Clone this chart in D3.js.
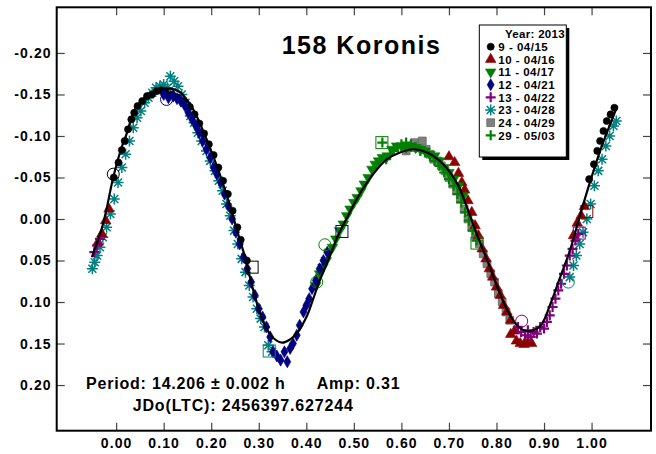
<!DOCTYPE html>
<meta charset="utf-8">

<!-- Load d3.js -->
<script src="https://d3js.org/d3.v7.min.js"></script>

<style>
body { margin: 0; background: white; }
text { font-family: Arial, "Liberation Sans", sans-serif; font-weight: bold; fill: #000; }
.tick text { font-size: 14px; letter-spacing: 1.1px; }
.tick line { stroke: #444; stroke-width: 1.2; }
</style>

<div id="my_dataviz"></div>

<script>

// ---- data: [phase, reduced mag] ----
var s09 = [[-0.005,-0.050],[0.005,-0.068],[0.012,-0.083],[0.018,-0.094],[0.025,-0.108],[0.032,-0.120],
  [0.038,-0.128],[0.045,-0.136],[0.055,-0.142],[0.065,-0.148],[0.075,-0.150],[0.085,-0.154],[0.095,-0.155],
  [0.105,-0.152],[0.118,-0.150],[0.130,-0.146],[0.142,-0.142],[0.155,-0.135],[0.165,-0.126],[0.175,-0.115],
  [0.185,-0.103],[0.195,-0.090],[0.205,-0.077],[0.215,-0.062],[0.225,-0.046],[0.235,-0.030],[0.245,-0.010],
  [0.255,0.010],[0.262,0.025],[0.275,0.050],
  [0.995,-0.048],[1.005,-0.066],[1.012,-0.082],[1.018,-0.094],[1.025,-0.106],[1.032,-0.118],[1.040,-0.126],[1.048,-0.134]];

var s10 = [[0.700,-0.075],[0.712,-0.068],[0.720,-0.055],[0.727,-0.044],[0.733,-0.035],[0.740,-0.022],
  [0.748,-0.008],[0.755,0.008],[0.762,0.020],[0.770,0.036],[0.778,0.048],[0.785,0.060],[0.792,0.070],
  [0.800,0.082],[0.808,0.092],[0.815,0.104],[0.822,0.112],[0.830,0.122],[0.838,0.135],[0.842,0.147],
  [0.850,0.150],[0.858,0.151],[0.866,0.149],[0.874,0.150],[0.830,0.139],
  [0.962,0.020],[0.970,0.005],[0.978,-0.004],[0.985,-0.015],
  [-0.038,0.028],[-0.030,0.018],[-0.022,0.002],[-0.015,-0.012]];

var s11 = [[0.420,0.080],[0.428,0.066],[0.435,0.058],[0.442,0.050],[0.448,0.040],[0.455,0.034],[0.462,0.024],
  [0.470,0.014],[0.478,0.006],[0.485,-0.004],[0.492,-0.012],[0.500,-0.020],[0.507,-0.026],[0.515,-0.034],
  [0.522,-0.042],[0.530,-0.050],[0.538,-0.060],[0.545,-0.066],[0.552,-0.070],[0.560,-0.074],[0.570,-0.076],
  [0.580,-0.084],[0.590,-0.088],[0.600,-0.088],[0.610,-0.086],[0.620,-0.088],[0.630,-0.086],[0.640,-0.084],
  [0.650,-0.082],[0.660,-0.078],[0.670,-0.076],[0.680,-0.070],[0.690,-0.062],[0.700,-0.056],[0.710,-0.048],
  [0.720,-0.040],[0.730,-0.028]];

var s12 = [[0.100,-0.150],[0.110,-0.146],[0.120,-0.148],[0.128,-0.145],[0.136,-0.142],[0.145,-0.136],
  [0.152,-0.128],[0.160,-0.120],[0.168,-0.112],[0.175,-0.104],[0.182,-0.094],[0.190,-0.084],[0.198,-0.074],
  [0.205,-0.062],[0.212,-0.054],[0.220,-0.044],[0.228,-0.030],[0.236,-0.016],[0.244,0.000],[0.252,0.016],
  [0.260,0.030],[0.268,0.046],[0.276,0.060],[0.284,0.076],[0.292,0.092],[0.300,0.108],[0.308,0.118],
  [0.316,0.130],[0.324,0.142],[0.330,0.160],[0.338,0.165],[0.346,0.170],[0.354,0.160],[0.360,0.172],
  [0.366,0.156],[0.372,0.150],[0.380,0.140],[0.386,0.128],[0.394,0.112],[0.400,0.104],[0.406,0.096],
  [0.412,0.084],[0.420,0.074],[0.428,0.060],[0.436,0.050],[0.444,0.040]];

var s13 = [[0.845,0.130],[0.852,0.136],[0.860,0.140],[0.866,0.134],[0.872,0.142],[0.878,0.136],[0.885,0.138],
  [0.892,0.130],[0.900,0.132],[0.906,0.124],[0.912,0.116],[0.918,0.106],[0.924,0.096],[0.930,0.086],
  [0.936,0.078],[0.942,0.066],[0.948,0.056],[0.954,0.044],[0.960,0.036],[0.966,0.026],[0.972,0.018],
  [-0.046,0.040],[-0.040,0.032],[-0.034,0.024]];

var s23 = [[-0.050,0.060],[-0.045,0.052],[-0.040,0.044],[-0.034,0.034],[-0.028,0.022],[-0.020,0.010],
  [-0.012,-0.006],[-0.004,-0.024],[0.004,-0.044],[0.012,-0.062],[0.020,-0.078],[0.028,-0.094],[0.036,-0.110],
  [0.044,-0.122],[0.052,-0.130],[0.060,-0.140],[0.068,-0.146],[0.076,-0.152],[0.084,-0.158],[0.092,-0.160],
  [0.100,-0.162],[0.108,-0.158],[0.114,-0.172],[0.122,-0.166],[0.130,-0.160],[0.138,-0.150],[0.146,-0.140],
  [0.156,-0.124],[0.164,-0.116],[0.172,-0.104],[0.180,-0.094],[0.190,-0.082],[0.198,-0.070],[0.208,-0.058],
  [0.216,-0.046],[0.224,-0.034],[0.232,-0.018],[0.240,-0.004],[0.248,0.014],[0.256,0.030],[0.264,0.048],
  [0.272,0.064],[0.280,0.080],[0.288,0.094],[0.296,0.108],[0.304,0.120],[0.312,0.130],[0.320,0.152],
  [0.328,0.160],
  [0.954,0.070],[0.962,0.056],[0.968,0.044],[0.975,0.030],[0.982,0.016],[0.990,0.000],[0.998,-0.018],
  [1.006,-0.040],[1.014,-0.058],[1.022,-0.072],[1.030,-0.088],[1.038,-0.100],[1.046,-0.112],[1.052,-0.118]];

var s24 = [[0.610,-0.082],[0.620,-0.086],[0.628,-0.092],[0.636,-0.088],[0.644,-0.094],[0.652,-0.084],
  [0.660,-0.078],[0.668,-0.072],[0.676,-0.070],[0.684,-0.064],[0.692,-0.058],[0.700,-0.050],[0.708,-0.042],
  [0.716,-0.034],[0.724,-0.024],[0.732,-0.012],[0.740,0.000],[0.748,0.010],[0.756,0.020],[0.764,0.030],
  [0.772,0.042],[0.780,0.054],[0.788,0.066],[0.796,0.076],[0.804,0.090],[0.812,0.100],[0.820,0.112],[0.828,0.122]];

var s29 = [[0.560,-0.092],[0.568,-0.072],[0.576,-0.078],[0.584,-0.082],[0.592,-0.086],[0.600,-0.090],
  [0.610,-0.092],[0.620,-0.090],[0.630,-0.086],[0.640,-0.082],[0.650,-0.080],[0.660,-0.076],[0.670,-0.070],
  [0.680,-0.064],[0.690,-0.056],[0.700,-0.048],[0.710,-0.040],[0.718,-0.030],[0.726,-0.020],[0.734,-0.008],
  [0.742,0.002],[0.750,0.014],[0.758,0.026]];

// fourier fit line
var fitCurve = [[-0.051,0.046],[-0.028,0.007],[-0.007,-0.048],[0.004,-0.072],[0.012,-0.087],[0.023,-0.104],
  [0.033,-0.123],[0.046,-0.138],[0.065,-0.147],[0.092,-0.156],[0.113,-0.157],[0.134,-0.153],[0.162,-0.132],
  [0.183,-0.106],[0.204,-0.076],[0.225,-0.042],[0.240,-0.015],[0.254,0.013],[0.271,0.046],[0.288,0.085],
  [0.303,0.114],[0.317,0.133],[0.330,0.143],[0.349,0.149],[0.366,0.145],[0.381,0.137],[0.402,0.116],
  [0.414,0.097],[0.429,0.073],[0.450,0.044],[0.465,0.022],[0.486,-0.002],[0.507,-0.025],[0.528,-0.044],
  [0.549,-0.060],[0.570,-0.072],[0.597,-0.080],[0.625,-0.084],[0.654,-0.080],[0.688,-0.066],[0.718,-0.042],
  [0.738,-0.014],[0.759,0.019],[0.780,0.049],[0.801,0.081],[0.822,0.109],[0.843,0.128],[0.864,0.135],
  [0.892,0.129],[0.913,0.103],[0.934,0.070],[0.955,0.037],[0.976,-0.005],[0.997,-0.045],[1.018,-0.082],
  [1.039,-0.114],[1.054,-0.136]];

// open markers: session start (circles) and end (squares) -> [phase, mag, session index]
var startMarks = [[-0.006,-0.054,0],[0.106,-0.144,3],[0.439,0.031,2],[0.951,0.076,5],[0.853,0.123,4],[0.422,0.076,7]];
var endMarks = [[0.286,0.058,0],[0.322,0.159,5],[0.475,0.015,3],[0.559,-0.092,7],[0.759,0.029,7],[0.990,-0.009,1],[0.974,0.017,4]];

var sessionNames = ["9 - 04/15","10 - 04/16","11 - 04/17","12 - 04/21","13 - 04/22","23 - 04/28","24 - 04/29","29 - 05/03"];
var sessionData = [s09, s10, s11, s12, s13, s23, s24, s29];
var xTicks = [0,0.1,0.2,0.3,0.4,0.5,0.6,0.7,0.8,0.9,1.0];
var yTicks = [-0.20,-0.15,-0.10,-0.05,0,0.05,0.10,0.15,0.20];

// styles
var colors = ["#000000","#8b0000","#008000","#000080","#800080","#008080","#808080","#008000"];
var shapes = ["circle","triUp","triDown","diamond","plus","aster","square","plus"];
var drawOrder = [5,6,0,1,2,3,4,7];

var W = 656, H = 454;
var frame = {left: 56.7, top: 7.3, right: 651, bottom: 430.7};

var svg = d3.select("#my_dataviz")
  .append("svg")
    .attr("width", W)
    .attr("height", H);

var x = d3.scaleLinear().domain([-0.125, 1.125]).range([frame.left, frame.right]);
var y = d3.scaleLinear().domain([-0.255, 0.255]).range([frame.top, frame.bottom]);

var fmt = function(d) { return d.toFixed(2); };

// axes, ticks point inward
svg.append("g")
  .attr("transform", "translate(0," + frame.bottom + ")")
  .call(d3.axisBottom(x).tickValues(xTicks).tickFormat(fmt).tickSize(-8).tickPadding(7))
  .call(function(g) { g.select(".domain").remove(); });
svg.append("g")
  .attr("transform", "translate(0," + frame.top + ")")
  .call(d3.axisTop(x).tickValues(xTicks).tickFormat("").tickSize(-8))
  .call(function(g) { g.select(".domain").remove(); });
svg.append("g")
  .attr("transform", "translate(" + frame.left + ",0)")
  .call(d3.axisLeft(y).tickValues(yTicks).tickFormat(fmt).tickSize(-8).tickPadding(5))
  .call(function(g) { g.select(".domain").remove(); });
svg.append("g")
  .attr("transform", "translate(" + frame.right + ",0)")
  .call(d3.axisRight(y).tickValues(yTicks).tickFormat("").tickSize(-8))
  .call(function(g) { g.select(".domain").remove(); });

svg.selectAll(".tick text").attr("font-family", null);

// marker paths
function markerPath(shape) {
  if (shape == "circle") return d3.symbol(d3.symbolCircle, 40)();
  if (shape == "triUp") return d3.symbol(d3.symbolTriangle, 48)();
  if (shape == "triDown") return d3.symbol(d3.symbolTriangle, 48)();
  if (shape == "diamond") return d3.symbol(d3.symbolDiamond, 42)();
  if (shape == "square") return d3.symbol(d3.symbolSquare, 60)();
  if (shape == "plus") return "M-5,0H5M0,-5V5";
  if (shape == "aster") return "M-5.5,0H5.5M0,-5.5V5.5M-4,-4L4,4M-4,4L4,-4";
}

function styleMarker(sel, i) {
  var s = shapes[i], c = colors[i];
  if (s == "plus" || s == "aster") {
    sel.attr("fill", "none").attr("stroke", c).attr("stroke-width", s == "plus" ? 2.2 : 1.5);
  } else if (s == "square") {
    sel.attr("fill", c).attr("stroke", "#666").attr("stroke-width", 0.8);
  } else {
    sel.attr("fill", c).attr("stroke", c).attr("stroke-width", 0.6);
  }
  return sel;
}

// points
drawOrder.forEach(function(i) {
  var pts = svg.append("g").selectAll("path")
    .data(sessionData[i])
    .enter()
    .append("path")
      .attr("d", markerPath(shapes[i]))
      .attr("transform", function(d) {
        return "translate(" + x(d[0]) + "," + y(d[1]) + ")" + (shapes[i] == "triDown" ? " rotate(180)" : "");
      });
  styleMarker(pts, i);
});

// start / end markers
svg.append("g").selectAll("circle")
  .data(startMarks)
  .enter()
  .append("circle")
    .attr("cx", function(d) { return x(d[0]); })
    .attr("cy", function(d) { return y(d[1]); })
    .attr("r", 6)
    .attr("fill", "none")
    .attr("stroke", function(d) { return colors[d[2]]; })
    .attr("stroke-width", 1);

svg.append("g").selectAll("rect")
  .data(endMarks)
  .enter()
  .append("rect")
    .attr("x", function(d) { return x(d[0]) - 6; })
    .attr("y", function(d) { return y(d[1]) - 6; })
    .attr("width", 12)
    .attr("height", 12)
    .attr("fill", "none")
    .attr("stroke", function(d) { return colors[d[2]]; })
    .attr("stroke-width", 1);

// fit line
svg.append("path")
  .datum(fitCurve)
  .attr("fill", "none")
  .attr("stroke", "#000")
  .attr("stroke-width", 2.2)
  .attr("d", d3.line()
    .x(function(d) { return x(d[0]); })
    .y(function(d) { return y(d[1]); })
    .curve(d3.curveCatmullRom));

// frame
svg.append("rect")
  .attr("x", frame.left)
  .attr("y", frame.top)
  .attr("width", frame.right - frame.left)
  .attr("height", frame.bottom - frame.top)
  .attr("fill", "none")
  .attr("stroke", "#000")
  .attr("stroke-width", 2);

// title
svg.append("text")
  .attr("x", 281.7)
  .attr("y", 54.3)
  .style("font-size", "25px")
  .style("letter-spacing", "1.5px")
  .text("158 Koronis");

// period / amplitude
svg.append("text")
  .attr("x", 86)
  .attr("y", 389)
  .style("font-size", "16px")
  .style("letter-spacing", "0.8px")
  .text("Period: 14.206 \u00b1 0.002 h");
svg.append("text")
  .attr("x", 316.7)
  .attr("y", 389)
  .style("font-size", "16px")
  .style("letter-spacing", "0.8px")
  .text("Amp: 0.31");
svg.append("text")
  .attr("x", 132.7)
  .attr("y", 411)
  .style("font-size", "16px")
  .style("letter-spacing", "0.85px")
  .text("JDo(LTC): 2456397.627244");

// legend
var lg = svg.append("g");
lg.append("rect")
  .attr("x", 482.3).attr("y", 28)
  .attr("width", 87).attr("height", 132)
  .attr("fill", "#000");
lg.append("rect")
  .attr("x", 479.3).attr("y", 25)
  .attr("width", 87).attr("height", 132)
  .attr("fill", "#fff")
  .attr("stroke", "#000")
  .attr("stroke-width", 1);
lg.append("text")
  .attr("x", 505).attr("y", 38)
  .style("font-size", "11.5px")
  .style("letter-spacing", "0.3px")
  .text("Year: 2013");

var rows = lg.selectAll(".lrow")
  .data(sessionNames)
  .enter()
  .append("g")
    .attr("class", "lrow")
    .attr("transform", function(d, i) { return "translate(490.7," + (46.7 + i * 12.66) + ")"; });
rows.append("path")
  .attr("d", function(d, i) { return markerPath(shapes[i]); })
  .attr("transform", function(d, i) { return shapes[i] == "triDown" ? "rotate(180)" : null; })
  .each(function(d, i) { styleMarker(d3.select(this), i); });
rows.append("text")
  .attr("x", 7.6)
  .attr("y", 4.2)
  .style("font-size", "11.5px")
  .style("letter-spacing", "0.5px")
  .text(function(d) { return d; });

</script>
